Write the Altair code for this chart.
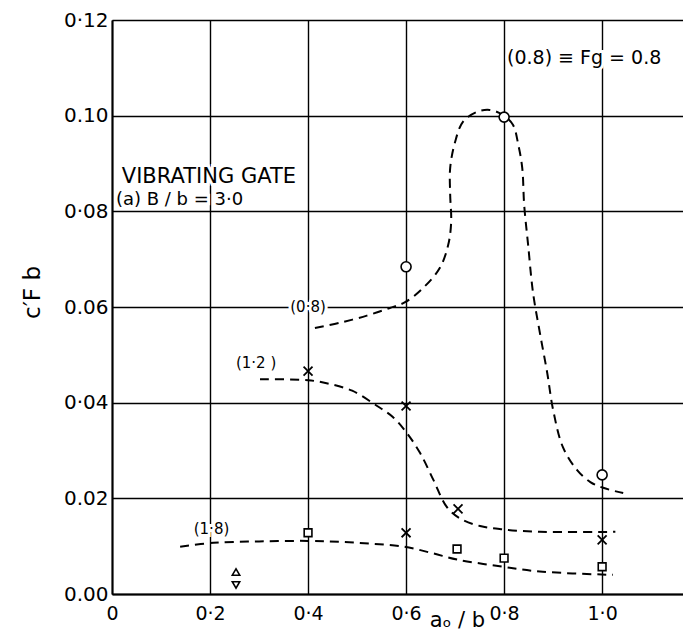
import json
import altair as alt
import pandas as pd

FONT = "DejaVu Sans"

# ---------------- data ----------------
x_ticks = [0, 0.2, 0.4, 0.6, 0.8, 1.0]
x_tick_labels = ["0", "0·2", "0·4", "0·6", "0·8", "1·0"]
y_ticks = [0, 0.02, 0.04, 0.06, 0.08, 0.10, 0.12]
y_tick_labels = ["0.00", "0.02", "0·04", "0.06", "0·08", "0.10", "0·12"]

# dashed curves
c08_x = [0.414, 0.465, 0.52, 0.567, 0.598, 0.635, 0.669, 0.686, 0.692, 0.690,
         0.690, 0.700, 0.716, 0.745, 0.771, 0.798, 0.818, 0.829, 0.837, 0.841,
         0.849, 0.859, 0.873, 0.888, 0.900, 0.920, 0.949, 0.976, 1.002, 1.043]
c08_y = [0.0556, 0.0567, 0.0582, 0.0598, 0.0610, 0.0640, 0.0682, 0.0730, 0.0778, 0.0834,
         0.0891, 0.0945, 0.0987, 0.1008, 0.1012, 0.1001, 0.0981, 0.0939, 0.0891, 0.0813,
         0.0730, 0.0630, 0.0546, 0.0462, 0.0385, 0.0307, 0.0259, 0.0234, 0.0222, 0.0211]

c12_x = [0.302, 0.40, 0.44, 0.49, 0.541, 0.573, 0.602, 0.629, 0.656, 0.683,
         0.710, 0.751, 0.798, 0.873, 1.027]
c12_y = [0.0449, 0.0447, 0.0440, 0.0425, 0.0393, 0.0370, 0.0336, 0.0294, 0.0238, 0.0182,
         0.0158, 0.0142, 0.0135, 0.0130, 0.0130]

c18_x = [0.139, 0.207, 0.30, 0.40, 0.465, 0.53, 0.596, 0.655, 0.704, 0.798, 0.873, 1.022]
c18_y = [0.0099, 0.0107, 0.0110, 0.0111, 0.0109, 0.0105, 0.0099, 0.0085, 0.0072, 0.0057,
         0.0047, 0.0040]

# measured points
circ_x = [0.6, 0.8, 1.0]
circ_y = [0.0684, 0.0997, 0.0249]
cross_x = [0.4, 0.6, 0.706, 1.0, 0.6]
cross_y = [0.0466, 0.0393, 0.0178, 0.0113, 0.0128]
sq_x = [0.4, 0.704, 0.8, 1.0]
sq_y = [0.0128, 0.0094, 0.0075, 0.0057]
tu_x = [0.253]
tu_y = [0.0046]
td_x = [0.253]
td_y = [0.0019]

# annotations
ann_text = ["VIBRATING GATE", "(a) B / b = 3·0", "(0.8) ≡ Fg = 0.8", "(0·8)", "(1·2 )", "(1·8)"]
ann_x = [0.02, 0.008, 0.806, 0.40, 0.294, 0.203]
ann_y = [0.0859, 0.0813, 0.112, 0.06, 0.0483, 0.0136]

# ---------------- chart ----------------
def label_expr(values, labels, fmt):
    keys = [format(v, fmt) for v in values]
    return (f"{json.dumps(labels, ensure_ascii=False)}"
            f"[indexof({json.dumps(keys)}, format(datum.value, '{fmt}'))]")

x_axis = alt.Axis(values=x_ticks, labelExpr=label_expr(x_ticks, x_tick_labels, ".1f"),
                  grid=True, gridColor="black", gridWidth=1.4, gridOpacity=1,
                  domain=True, domainColor="black", domainWidth=2, ticks=False,
                  labelPadding=10, labelFontSize=19, labelFont=FONT, labelColor="black",
                  labelFlush=False,
                  title="aₒ / b", titleFont=FONT, titleFontSize=21, titleFontWeight="normal",
                  titleColor="black", titleX=345, titleY=26, titleAlign="center",
                  titleBaseline="middle")
y_axis = alt.Axis(values=y_ticks, labelExpr=label_expr(y_ticks, y_tick_labels, ".2f"),
                  grid=True, gridColor="black", gridWidth=1.4, gridOpacity=1,
                  domain=True, domainColor="black", domainWidth=2, ticks=False,
                  labelPadding=4, labelFontSize=20, labelFont=FONT, labelColor="black",
                  title="c′F b", titleFont=FONT, titleFontSize=23, titleFontWeight="normal",
                  titleColor="black", titleX=-80, titleY=272, titleAlign="center",
                  titleBaseline="middle", titleAngle=270)

xscale = alt.Scale(domain=[0, 1.165], nice=False, zero=False)
yscale = alt.Scale(domain=[0, 0.12], nice=False, zero=False)
X = alt.X("x:Q", scale=xscale, axis=x_axis)
Y = alt.Y("y:Q", scale=yscale, axis=y_axis)

frames = []
for name, xs, ys in [("0.8", c08_x, c08_y), ("1.2", c12_x, c12_y), ("1.8", c18_x, c18_y)]:
    frames.append(pd.DataFrame({"series": name, "order": list(range(len(xs))), "x": xs, "y": ys}))
lines_df = pd.concat(frames, ignore_index=True)

lines = alt.Chart(lines_df).mark_line(
    color="black", strokeWidth=2, strokeDash=[9, 6], interpolate="catmull-rom"
).encode(x=X, y=Y, detail="series:N", order="order:Q")

def marker(xs, ys, shape, size, filled=True):
    df = pd.DataFrame({"x": xs, "y": ys})
    if filled:
        m = alt.Chart(df).mark_point(shape=shape, size=size, filled=True, fill="white",
                                     stroke="black", strokeWidth=1.6, opacity=1)
    else:
        m = alt.Chart(df).mark_point(shape=shape, size=size, filled=False,
                                     stroke="black", strokeWidth=1.8, opacity=1)
    return m.encode(x=X, y=Y)

markers = [
    marker(circ_x, circ_y, "circle", 100),
    marker(cross_x, cross_y, "M-1,-1L1,1M-1,1L1,-1", 80, filled=False),
    marker(sq_x, sq_y, "square", 60),
    marker(tu_x, tu_y, "triangle-up", 55),
    marker(td_x, td_y, "triangle-down", 55),
]

ann_size = [21, 18, 19, 15, 15, 15]
ann_align = ["left", "left", "left", "center", "center", "center"]
ann_base = ["alphabetic", "alphabetic", "middle", "middle", "middle", "middle"]

texts = []
for i in range(len(ann_text)):
    df = pd.DataFrame({"x": [ann_x[i]], "y": [ann_y[i]], "t": [ann_text[i]]})
    for halo in (True, False):
        props = dict(font=FONT, fontSize=ann_size[i], align=ann_align[i],
                     baseline=ann_base[i], color="black")
        if halo:
            props.update(stroke="white", strokeWidth=6, color="white")
        texts.append(alt.Chart(df).mark_text(**props).encode(x=X, y=Y, text="t:N"))

chart = alt.layer(*texts, lines, *markers).properties(
    width=571, height=574,
    padding={"left": 104, "top": 12, "right": 0, "bottom": 36},
    autosize=alt.AutoSizeParams(type="none"),
).configure_view(strokeWidth=0).configure(background="white")

chart.save("out.html", embed_options={"renderer": "svg", "actions": False})
